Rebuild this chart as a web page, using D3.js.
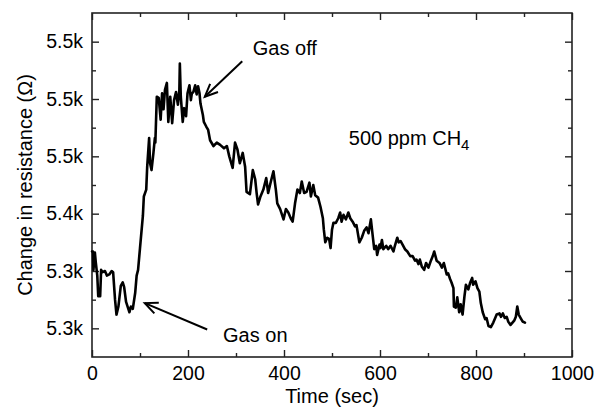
<!DOCTYPE html>
<html>
<head>
<meta charset="utf-8">
<script src="https://cdn.jsdelivr.net/npm/d3@7"></script>
<style>
  html, body { margin: 0; padding: 0; background: #fff; }
  svg { display: block; }
  text { font-family: "Liberation Sans", Arial, Helvetica, sans-serif; fill: #000; }
</style>
</head>
<body>
<svg id="chart" width="597" height="414"></svg>
<script>
// ---- data (time in s, resistance change in ohm) ----
const timeSec = [0,2,3,6,8,11,13,17,19,22,27,31,36,41,44,48,51,55,60,64,67,71,78,81,85,90,93,96,100,106,108,113,115,119,121,124,128,131,132,135,139,143,146,149,152,156,159,163,167,171,175,179,182,183,185,189,192,196,199,203,206,208,211,215,218,221,224,226,231,233,238,242,246,253,260,267,275,281,286,293,298,303,308,314,319,322,329,335,340,343,346,351,357,363,367,372,378,383,386,392,399,404,409,414,418,423,428,433,437,442,447,453,456,461,465,471,476,481,483,486,490,494,497,500,503,508,513,517,520,524,529,534,538,543,548,551,557,562,567,572,576,581,585,588,592,594,599,601,604,607,613,617,622,628,631,636,639,643,647,652,657,663,668,673,676,680,683,687,692,696,701,706,710,713,718,724,729,733,739,742,746,749,753,754,758,761,765,768,772,776,779,784,788,792,794,799,803,807,810,814,819,822,826,831,836,840,843,849,852,856,860,864,867,872,876,880,883,886,889,893,897,902];
const resistance = [5367,5367,5351,5366,5357,5346,5328,5328,5351,5349,5350,5346,5347,5350,5349,5325,5312,5319,5337,5340,5336,5323,5314,5319,5317,5331,5346,5351,5370,5398,5415,5421,5441,5466,5444,5438,5453,5466,5462,5502,5501,5482,5505,5491,5508,5514,5480,5502,5479,5499,5506,5495,5508,5531,5502,5480,5492,5485,5505,5512,5499,5505,5506,5512,5504,5511,5505,5496,5486,5480,5476,5473,5464,5459,5462,5460,5457,5459,5450,5440,5462,5456,5444,5453,5441,5419,5417,5438,5430,5418,5408,5415,5421,5431,5418,5427,5437,5421,5409,5404,5395,5404,5401,5396,5393,5409,5421,5418,5428,5418,5419,5427,5415,5425,5416,5414,5406,5396,5386,5375,5379,5378,5370,5386,5392,5392,5396,5401,5393,5399,5395,5401,5396,5393,5389,5390,5375,5379,5385,5388,5383,5395,5380,5369,5372,5364,5373,5370,5377,5369,5372,5369,5372,5367,5372,5379,5375,5376,5373,5369,5367,5363,5363,5359,5360,5356,5360,5354,5351,5357,5353,5359,5363,5367,5359,5357,5353,5357,5347,5348,5343,5340,5335,5319,5318,5327,5314,5321,5312,5328,5338,5334,5340,5344,5338,5341,5335,5332,5322,5314,5308,5309,5302,5301,5305,5309,5312,5313,5310,5313,5309,5310,5306,5303,5305,5307,5310,5319,5312,5309,5306,5305];

const xMajorTicks = [0, 200, 400, 600, 800, 1000];
const xMinorTicks = [100, 300, 500, 700, 900];
const yMajorTicks = [5300, 5350, 5400, 5450, 5500, 5550];
const yTickLabels = ["5.3k", "5.3k", "5.4k", "5.5k", "5.5k", "5.5k"];
const yMinorTicks = [5325, 5375, 5425, 5475, 5525];

const xTitle = "Time (sec)";
const yTitle = "Change in resistance (\u03A9)";

// annotations: label, arrow tip (t, R), arrow tail (t, R), text anchor (t, R)
const annoLabels = ["Gas off", "Gas on"];
const annoTip = [[235, 5502], [110, 5322]];
const annoTail = [[313, 5533], [240, 5299]];
const annoText = [[335, 5538], [273, 5288]];
const gasLabel = ["500 ppm CH", "4"];
const gasLabelPos = [535, 5460];

// ---- layout ----
const svg = d3.select("#chart");
const mL = 92, mR = 572, mT = 13, mB = 357;
const x = d3.scaleLinear().domain([0, 1000]).range([mL, mR]);
const y = d3.scaleLinear().domain([5275, 5575]).range([mB, mT]);

const fs = 19.5;
const axisCol = "#222";

// frame
svg.append("rect").attr("x", mL).attr("y", mT)
  .attr("width", mR - mL).attr("height", mB - mT)
  .attr("fill", "none").attr("stroke", axisCol).attr("stroke-width", 1.6);

function styleAxis(g) {
  g.select(".domain").remove();
  g.selectAll(".tick line").attr("stroke", axisCol).attr("stroke-width", 1.4);
  g.selectAll("text").style("font-size", fs + "px").attr("fill", "#000")
    .style("font-family", '"Liberation Sans", Arial, Helvetica, sans-serif');
}

// bottom axis (major, labeled)
svg.append("g").attr("transform", `translate(0,${mB})`)
  .call(d3.axisBottom(x).tickValues(xMajorTicks).tickSizeInner(-7).tickSizeOuter(0).tickPadding(9).tickFormat(d3.format("d")))
  .call(styleAxis);
svg.append("g").attr("transform", `translate(0,${mB})`)
  .call(d3.axisBottom(x).tickValues(xMinorTicks).tickSizeInner(-4).tickSizeOuter(0).tickFormat(""))
  .call(styleAxis);
// top axis mirror
svg.append("g").attr("transform", `translate(0,${mT})`)
  .call(d3.axisTop(x).tickValues(xMajorTicks).tickSizeInner(-7).tickSizeOuter(0).tickFormat(""))
  .call(styleAxis);
svg.append("g").attr("transform", `translate(0,${mT})`)
  .call(d3.axisTop(x).tickValues(xMinorTicks).tickSizeInner(-4).tickSizeOuter(0).tickFormat(""))
  .call(styleAxis);

// left axis
svg.append("g").attr("transform", `translate(${mL},0)`)
  .call(d3.axisLeft(y).tickValues(yMajorTicks).tickSizeInner(-7).tickSizeOuter(0).tickPadding(9)
    .tickFormat((d, i) => yTickLabels[i]))
  .call(styleAxis);
svg.append("g").attr("transform", `translate(${mL},0)`)
  .call(d3.axisLeft(y).tickValues(yMinorTicks).tickSizeInner(-4).tickSizeOuter(0).tickFormat(""))
  .call(styleAxis);
// right axis mirror
svg.append("g").attr("transform", `translate(${mR},0)`)
  .call(d3.axisRight(y).tickValues(yMajorTicks).tickSizeInner(-7).tickSizeOuter(0).tickFormat(""))
  .call(styleAxis);
svg.append("g").attr("transform", `translate(${mR},0)`)
  .call(d3.axisRight(y).tickValues(yMinorTicks).tickSizeInner(-4).tickSizeOuter(0).tickFormat(""))
  .call(styleAxis);

// titles
svg.append("text").attr("x", (mL + mR) / 2).attr("y", 403)
  .attr("text-anchor", "middle").style("font-size", "20px").text(xTitle);
svg.append("text").attr("transform", `translate(31.5,${(mT + mB) / 2}) rotate(-90)`)
  .attr("text-anchor", "middle").style("font-size", "20px").text(yTitle);

// data line
const data = timeSec.map((t, i) => ({ t, r: resistance[i] }));
svg.append("path").datum(data)
  .attr("fill", "none").attr("stroke", "#000").attr("stroke-width", 2.6)
  .attr("stroke-linejoin", "round").attr("stroke-linecap", "round")
  .attr("d", d3.line().x(d => x(d.t)).y(d => y(d.r)));

// annotations
annoLabels.forEach((lab, i) => {
  const tx = x(annoTip[i][0]), ty = y(annoTip[i][1]);
  const sx = x(annoTail[i][0]), sy = y(annoTail[i][1]);
  svg.append("line").attr("x1", sx).attr("y1", sy).attr("x2", tx).attr("y2", ty)
    .attr("stroke", "#000").attr("stroke-width", 2);
  const ang = Math.atan2(sy - ty, sx - tx);
  const L = 14, a = 0.42;
  const p1 = [tx + L * Math.cos(ang + a), ty + L * Math.sin(ang + a)];
  const p2 = [tx + L * Math.cos(ang - a), ty + L * Math.sin(ang - a)];
  svg.append("path").attr("d", `M${p1[0]},${p1[1]}L${tx},${ty}L${p2[0]},${p2[1]}`)
    .attr("fill", "none").attr("stroke", "#000").attr("stroke-width", 2);
  svg.append("text").attr("x", x(annoText[i][0])).attr("y", y(annoText[i][1]))
    .style("font-size", "20px").text(lab);
});

const gl = svg.append("text").attr("x", x(gasLabelPos[0])).attr("y", y(gasLabelPos[1]))
  .style("font-size", "20px");
gl.append("tspan").text(gasLabel[0]);
gl.append("tspan").attr("dy", 5).style("font-size", "15px").text(gasLabel[1]);
</script>
</body>
</html>
